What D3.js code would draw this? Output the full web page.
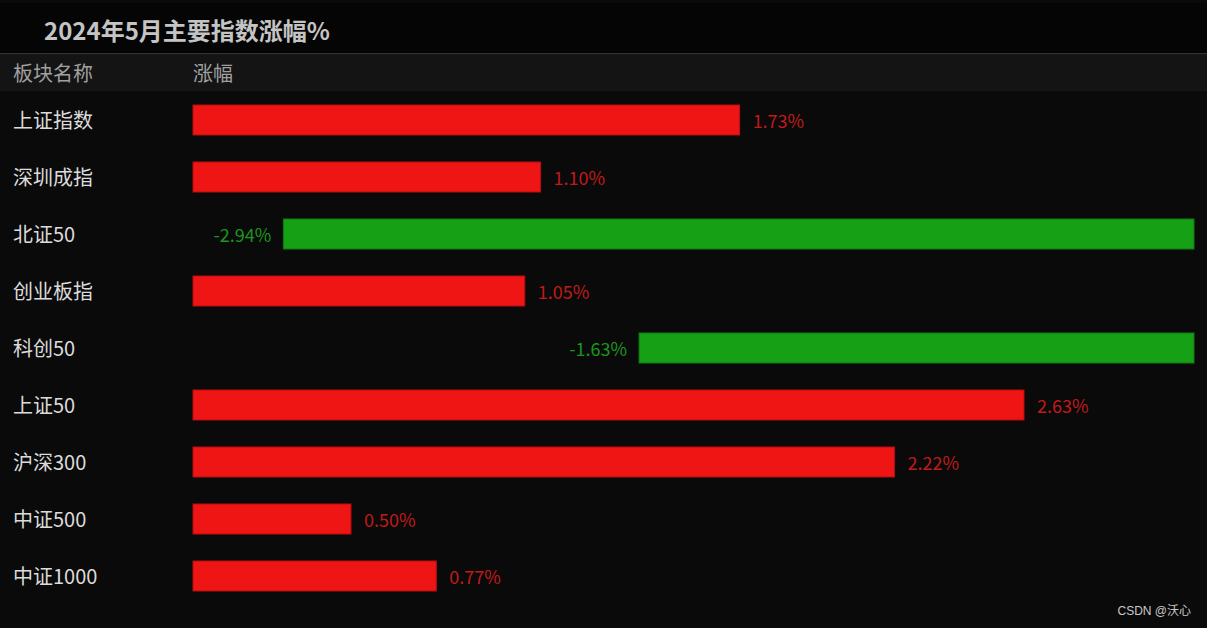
<!DOCTYPE html>
<html><head><meta charset="utf-8">
<script src="https://cdn.jsdelivr.net/npm/d3@7/dist/d3.min.js"></script>
<style>
html,body{margin:0;padding:0;background:#0a0a0a;}
svg{display:block;}
text{font-family:"Noto Sans CJK SC","Noto Sans",sans-serif;}
</style></head>
<body>
<svg id="chart" width="1207" height="628"></svg>
<script>
const title = "2024年5月主要指数涨幅%";
const headers = ["板块名称", "涨幅"];
const categories = ["上证指数","深圳成指","北证50","创业板指","科创50","上证50","沪深300","中证500","中证1000"];
const values = [1.73, 1.10, -2.94, 1.05, -1.63, 2.63, 2.22, 0.50, 0.77];
const watermark = "CSDN @沃心";

const W = 1207, H = 628;
const svg = d3.select("#chart");

// backgrounds
svg.append("rect").attr("x",0).attr("y",0).attr("width",W).attr("height",H).attr("fill","#0a0a0a");
svg.append("rect").attr("x",0).attr("y",3).attr("width",W).attr("height",50).attr("fill","#050505");
svg.append("rect").attr("x",0).attr("y",53).attr("width",W).attr("height",1.5).attr("fill","#333");
svg.append("rect").attr("x",0).attr("y",54.5).attr("width",W).attr("height",36.5).attr("fill","#141414");

svg.append("text").attr("x",44).attr("y",29).attr("dominant-baseline","central")
  .attr("font-size",24).attr("font-weight","bold").attr("fill","#c4c4c4").text(title);

svg.append("text").attr("x",13).attr("y",72).attr("dominant-baseline","central")
  .attr("font-size",20).attr("fill","#a0a0a0").text(headers[0]);
svg.append("text").attr("x",193).attr("y",72).attr("dominant-baseline","central")
  .attr("font-size",20).attr("fill","#a0a0a0").text(headers[1]);

const y = d3.scaleBand().domain(categories).range([91.5, 604.5])
  .paddingInner(27/57).paddingOuter(27/114);
const xPos = d3.scaleLinear().domain([0, 3.168]).range([193, 1194]);
const xNeg = d3.scaleLinear().domain([-3.273, 0.414]).range([193, 1194]);

const data = categories.map((c,i)=>({c, v: values[i]}));
const fmt = v => v.toFixed(2) + "%";

const rows = svg.append("g").selectAll("g").data(data).join("g");

rows.append("text").attr("x",13).attr("y",d=>y(d.c)+y.bandwidth()/2-1)
  .attr("dominant-baseline","central").attr("font-size",20).attr("fill","#dcdcdc").text(d=>d.c);

rows.append("rect")
  .attr("x", d=> d.v>=0 ? xPos(0) : xNeg(d.v))
  .attr("y", d=>y(d.c))
  .attr("width", d=> d.v>=0 ? xPos(d.v)-xPos(0) : 1194 - xNeg(d.v))
  .attr("height", y.bandwidth())
  .attr("fill", d=> d.v>=0 ? "#ef1515" : "#16a016")
  .attr("stroke", d=> d.v>=0 ? "#b80e0e" : "#0f7a0f").attr("stroke-width",1);

rows.append("text")
  .attr("x", d=> d.v>=0 ? xPos(d.v)+13 : xNeg(d.v)-12)
  .attr("y", d=>y(d.c)+y.bandwidth()/2)
  .attr("text-anchor", d=> d.v>=0 ? "start" : "end")
  .attr("dominant-baseline","central").attr("font-size",18)
  .attr("fill", d=> d.v>=0 ? "#c01a1a" : "#1c961c")
  .text(d=> fmt(d.v));

svg.append("text").attr("x",1191).attr("y",611).attr("text-anchor","end").attr("dominant-baseline","central")
  .attr("font-size",12).attr("fill","#c8c8c8").style("font-family","'Liberation Sans','Noto Sans CJK SC',sans-serif").text(watermark);
</script>
</body></html>
